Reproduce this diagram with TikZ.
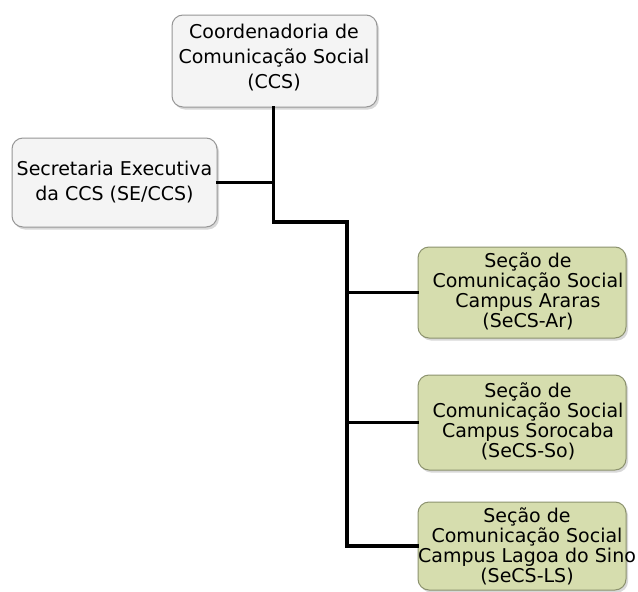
\documentclass[tikz,border=0pt]{standalone}
\usepackage{fontspec}
\setmainfont{DejaVu Sans}
\usetikzlibrary{shadows}
\definecolor{greenfill}{RGB}{214,221,174}
\definecolor{greenline}{RGB}{140,146,110}
\definecolor{greyfill}{RGB}{244,244,244}
\definecolor{greyline}{RGB}{150,150,150}
\tikzset{
  x=1pt, y=-1pt,
  box/.style={draw, rounded corners=11pt, line width=1pt, inner sep=0pt,
    drop shadow={shadow xshift=2pt, shadow yshift=-2.5pt, fill=black!25, opacity=0.6}},
  greybox/.style={box, draw=greyline, fill=greyfill},
  greenbox/.style={box, draw=greenline, fill=greenfill},
  txt/.style={align=center, inner sep=0pt, font=\fontsize{19}{25}\selectfont, text=black},
  gtxt/.style={align=center, inner sep=0pt, font=\fontsize{19}{20}\selectfont, text=black},
  conn/.style={line width=3.2pt, line cap=rect, draw=black},
}
\begin{document}
\begin{tikzpicture}
\useasboundingbox[fill=white] (0,0) rectangle (638,592);
% boxes
\node[greybox, minimum width=205pt, minimum height=92pt] (ccs) at (274.5,61) {};
\node[greybox, minimum width=205pt, minimum height=89pt] (se) at (114.5,182.5) {};
\node[greenbox, minimum width=208pt, minimum height=91pt] (s1) at (522,292.5) {};
\node[greenbox, minimum width=208pt, minimum height=95pt] (s2) at (522,422.5) {};
\node[greenbox, minimum width=208pt, minimum height=88pt] (s3) at (522,546) {};
% texts
\node[txt] (ccsT) at (274,58) {Coordenadoria de\\Comunicação Social\\(CCS)};
\node[txt] (seT) at (114.5,182) {Secretaria Executiva\\da CCS (SE/CCS)};
\node[gtxt] (s1T) at (528,291) {Seção de\\Comunicação Social\\Campus Araras\\(SeCS-Ar)};
\node[gtxt] (s2T) at (528,421) {Seção de\\Comunicação Social\\Campus Sorocaba\\(SeCS-So)};
\node[gtxt] (s3T) at (527,546) {Seção de\\Comunicação Social\\Campus Lagoa do Sino\\(SeCS-LS)};
% connectors
\coordinate (j2) at (273.5,222);
\coordinate (j3) at (347,222);
\draw[conn] (ccs.south -| j2) -- (j2) -- (j3) |- (s3.west);
\draw[conn] (se.east) -- (se.east -| j2);
\draw[conn] (j3 |- s1.west) -- (s1.west);
\draw[conn, line width=2.4pt] (j3 |- s2.west) -- (s2.west);
\end{tikzpicture}
\end{document}
